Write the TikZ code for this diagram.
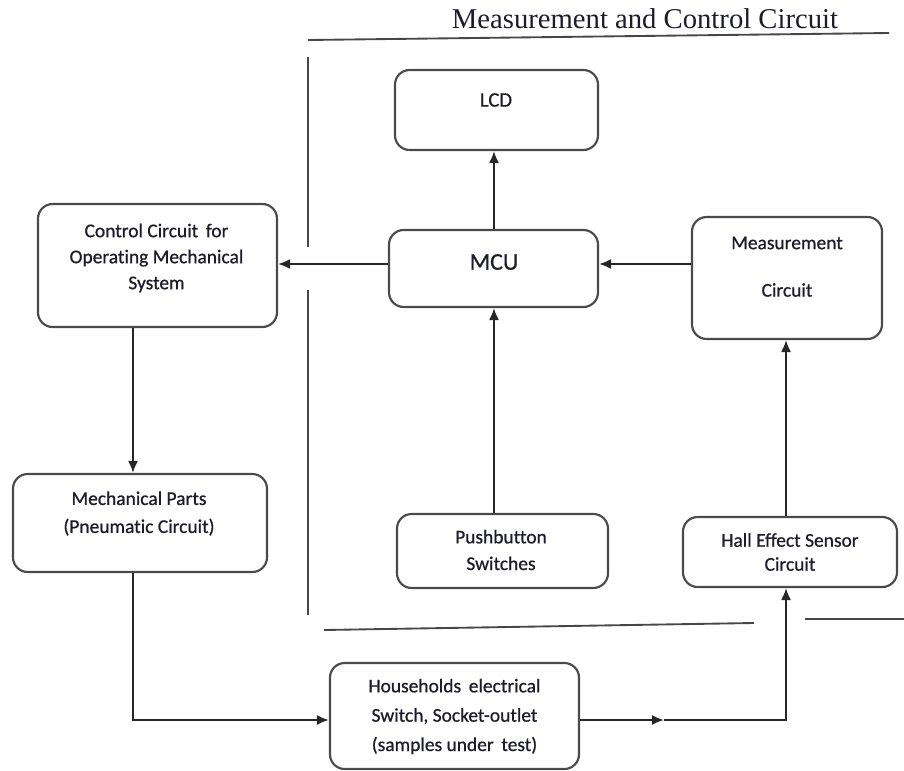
\documentclass[tikz,border=0pt]{standalone}
\usepackage{fontspec}
\setmainfont{Carlito}[Ligatures={NoCommon}]
\newfontfamily\boxfont{Carlito}[Ligatures={NoCommon}, FakeBold=0.7]
\newfontfamily\titlefont{Liberation Serif}
\usetikzlibrary{arrows.meta}
\definecolor{boxline}{HTML}{4A4A4A}
\definecolor{conline}{HTML}{262626}
\definecolor{txt}{HTML}{1C1C2C}
\begin{document}
\begin{tikzpicture}[x=0.75pt,y=-0.75pt,
  blk/.style={draw=boxline, line width=1.6pt, rounded corners=11pt, inner sep=0pt},
  lbl/.style={text=txt, font=\boxfont\fontsize{14.6}{18}\selectfont, inner sep=0pt, align=center},
  con/.style={draw=conline, line width=1.4pt},
  arr/.style={con, -{Latex[length=9pt,width=7.5pt]}},
  part/.style={draw=conline!85, line width=1.4pt}]
\useasboundingbox (0,0) rectangle (904,771);

% boxes
\node[blk, minimum width=203*0.75pt, minimum height=80*0.75pt] (lcd) at (496.5,110) {};
\node[blk, minimum width=209*0.75pt, minimum height=77*0.75pt] (mcu) at (493.5,268.5) {};
\node[blk, minimum width=190*0.75pt, minimum height=122*0.75pt] (meas) at (787,278) {};
\node[blk, minimum width=239*0.75pt, minimum height=123*0.75pt] (ctrl) at (157.5,265.5) {};
\node[blk, minimum width=254*0.75pt, minimum height=98*0.75pt] (mech) at (140,523) {};
\node[blk, minimum width=211*0.75pt, minimum height=74*0.75pt] (push) at (502.5,551) {};
\node[blk, minimum width=214*0.75pt, minimum height=70*0.75pt] (hall) at (790,552) {};
\node[blk, minimum width=249*0.75pt, minimum height=106*0.75pt] (house) at (454.5,716) {};

% texts
\node[text=txt, font=\titlefont\fontsize{21.5}{25}\selectfont, inner sep=0pt] (title) at (645,19) {Measurement and Control Circuit};
\node[lbl, font=\boxfont\fontsize{15.5}{18}\selectfont] (tlcd) at (496,100) {LCD};
\node[lbl, font=\boxfont\fontsize{18}{22}\selectfont] (tmcu) at (494,262) {MCU};
\node[lbl] (tmeas1) at (787,243) {Measurement};
\node[lbl] (tmeas2) at (787,290) {Circuit};
\node[lbl] (tctrl) at (156.5,258) {Control Circuit\, for\\[1.5pt] Operating Mechanical\\[1.5pt] System};
\node[lbl] (tmech) at (139,513.5) {Mechanical Parts\\[3pt] (Pneumatic Circuit)};
\node[lbl] (tpush) at (501,550) {Pushbutton\\[2pt] Switches};
\node[lbl] (thall) at (790,552) {Hall Effect Sensor\\[0pt] Circuit};
\node[lbl] (thouse) at (454.5,716.5) {Households\, electrical\\[4pt] Switch, Socket-outlet\\[4pt] (samples under\, test)};

% helper coordinates
\coordinate (ay) at (0,264);
\coordinate (hy) at (0,720);
\coordinate (cx) at (133,0);
\coordinate (mx) at (494,0);
\coordinate (rx) at (786,0);
\coordinate (mid) at (664,720);
\coordinate (corner) at (786,720);
\coordinate (mcorner) at (133,720);

% connectors
\draw[arr] (mcu.north -| mx) -- (lcd.south -| mx);
\draw[arr] (mcu.west |- ay) -- (ctrl.east |- ay);
\draw[arr] (meas.west |- ay) -- (mcu.east |- ay);
\draw[arr] (push.north -| mx) -- (mcu.south -| mx);
\draw[arr] (hall.north -| rx) -- (meas.south -| rx);
\draw[arr] (ctrl.south -| cx) -- (mech.north -| cx);
\draw[arr] (mech.south -| cx) -- (mcorner) -- (house.west |- hy);
\draw[arr] (house.east |- hy) -- (mid);
\draw[arr] (mid) -- (corner) -- (hall.south -| rx);

% partition lines
\draw[part] (308,40) -- (889,33);
\draw[part] (308,57) -- (308,247);
\draw[part] (308,290) -- (308,615);
\draw[part] (324,630) -- (754,623);
\draw[part] (805,619) -- (904,619);
\end{tikzpicture}
\end{document}
